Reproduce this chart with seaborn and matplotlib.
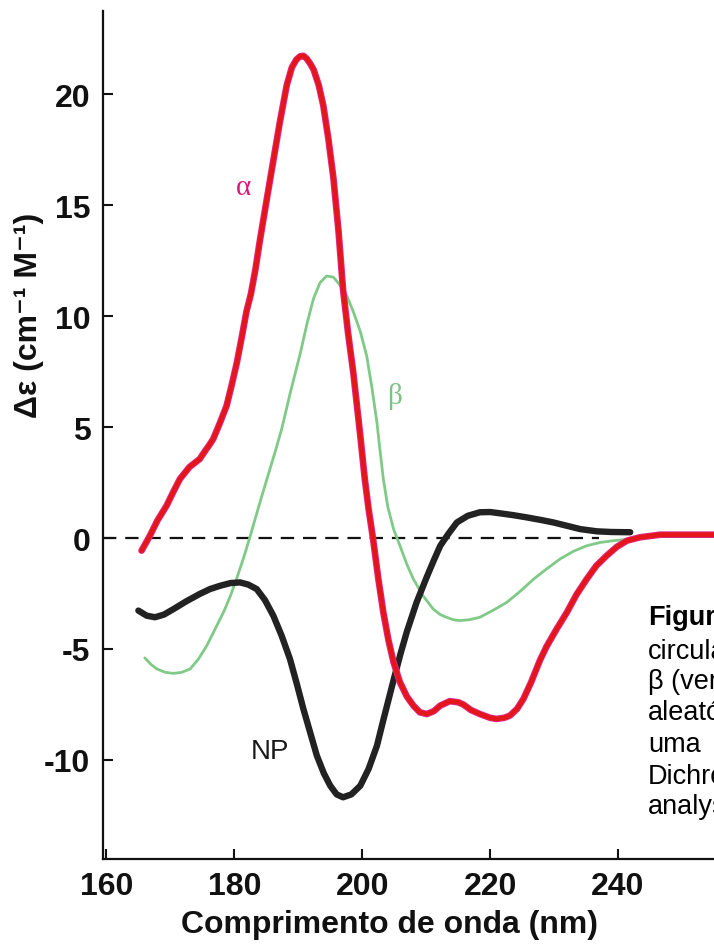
import matplotlib
matplotlib.use("Agg")
import matplotlib.pyplot as plt
import pandas as pd
import seaborn as sns

# CD spectra of the three reference secondary structures (Δε vs wavelength)
alpha_nm = [165.5, 166.8, 168.0, 169.4, 170.5, 171.5, 173.0, 174.6, 175.5, 176.0,
            176.7, 177.7, 178.8, 179.6, 180.4, 181.2, 181.9, 182.6, 183.3, 184.0,
            185.1, 186.1, 187.1, 188.2, 189.0, 189.7, 190.3, 190.8, 191.3, 191.8,
            192.4, 193.2, 193.9, 194.7, 195.5, 196.3, 197.0, 197.8, 198.6, 199.7,
            200.4, 201.0, 201.7, 202.5, 203.3, 204.1, 204.9, 205.9, 207.0, 208.0,
            209.0, 210.1, 211.2, 212.2, 213.7, 215.0, 215.8, 217.0, 218.4, 220.0,
            221.0, 222.2, 223.1, 224.2, 225.2, 226.4, 227.8, 228.8, 230.4, 232.0,
            233.5, 235.1, 236.6, 238.2, 239.8, 241.4, 243.4, 246.6, 250.0, 255.0]
alpha_de = [-0.57, 0.1, 0.8, 1.45, 2.1, 2.66, 3.2, 3.56, 3.95, 4.15,
            4.46, 5.15, 5.96, 6.9, 7.9, 9.1, 10.2, 11.0, 12.1, 13.4,
            15.3, 17.0, 18.7, 20.4, 21.2, 21.55, 21.7, 21.72, 21.6, 21.4,
            21.1, 20.4, 19.5, 18.0, 16.2, 13.8, 11.2, 9.2, 7.46, 4.6,
            2.66, 1.3, -0.05, -1.8, -3.35, -4.6, -5.6, -6.5, -7.15, -7.55,
            -7.85, -7.93, -7.8, -7.55, -7.35, -7.4, -7.5, -7.75, -7.93, -8.1,
            -8.15, -8.1, -8.0, -7.7, -7.25, -6.5, -5.5, -4.9, -4.1, -3.35,
            -2.55, -1.85, -1.25, -0.8, -0.4, -0.12, 0.03, 0.15, 0.15, 0.15]

beta_nm = [166.0, 167.0, 167.9, 169.2, 170.5, 171.8, 173.1, 174.4, 175.7, 177.0,
           178.3, 179.4, 180.4, 181.5, 182.5, 183.8, 185.1, 186.3, 187.4, 188.8,
           190.3, 191.4, 192.4, 193.4, 194.4, 195.5, 196.5, 197.6, 198.6, 199.7,
           200.7, 201.5, 202.3, 202.8, 203.3, 204.0, 204.9, 205.9, 207.0, 208.0,
           209.5, 211.1, 212.2, 213.0, 214.2, 215.3, 216.8, 218.4, 220.5, 222.6,
           224.7, 226.8, 228.8, 230.9, 233.0, 235.1, 237.2, 239.3, 241.9]
beta_de = [-5.4, -5.7, -5.9, -6.05, -6.1, -6.05, -5.9, -5.45, -4.85, -4.1,
           -3.35, -2.6, -1.8, -0.85, 0.1, 1.4, 2.66, 3.8, 4.9, 6.6,
           8.3, 9.7, 10.8, 11.5, 11.8, 11.75, 11.4, 10.9, 10.2, 9.3,
           8.2, 6.8, 5.2, 3.9, 2.66, 1.4, 0.4, -0.35, -1.2, -1.85,
           -2.6, -3.2, -3.45, -3.55, -3.68, -3.72, -3.68, -3.57, -3.25, -2.9,
           -2.4, -1.85, -1.4, -0.95, -0.6, -0.35, -0.2, -0.12, -0.05]

coil_nm = [165.0, 166.3, 167.6, 169.0, 170.5, 172.5, 174.6, 176.2, 177.8, 179.4,
           180.9, 182.2, 183.5, 184.8, 186.1, 187.4, 188.7, 189.8, 190.8, 191.9,
           192.9, 194.0, 195.0, 196.0, 197.0, 198.3, 199.7, 201.0, 202.3, 203.3,
           204.1, 204.9, 206.0, 207.0, 208.5, 210.1, 211.2, 212.2, 213.5, 214.8,
           216.5, 218.4, 220.0, 221.6, 223.6, 225.7, 227.8, 229.9, 232.0, 234.1,
           236.7, 239.0, 241.9]
coil_de = [-3.27, -3.5, -3.57, -3.45, -3.2, -2.85, -2.52, -2.3, -2.15, -2.03,
           -2.0, -2.1, -2.3, -2.8, -3.5, -4.4, -5.45, -6.6, -7.7, -8.8,
           -9.8, -10.6, -11.16, -11.55, -11.68, -11.55, -11.16, -10.4, -9.36, -8.2,
           -7.3, -6.4, -5.2, -4.2, -2.9, -1.75, -1.0, -0.35, 0.2, 0.7,
           1.0, 1.16, 1.17, 1.11, 1.03, 0.93, 0.82, 0.7, 0.55, 0.4,
           0.3, 0.27, 0.26]

x_ticks = [160, 180, 200, 220, 240]
y_ticks = [-10, -5, 0, 5, 10, 15, 20]
x_range = (159.47, 255.0)
y_range = (-14.46, 23.74)
baseline_end = 237.0

caption_lines = ["Figura", "circular", "β (verde)", "aleatória", "uma", "Dichroism", "analysis"]

sns.set_style("ticks")
plt.rcParams["font.family"] = ["Liberation Sans", "DejaVu Sans"]
plt.rcParams["axes.unicode_minus"] = False

fig = plt.figure(figsize=(7.14, 9.45), dpi=100)
ax = fig.add_axes([103 / 714, 85 / 945, 611 / 714, 848 / 945])

df_alpha = pd.DataFrame({"nm": alpha_nm, "de": alpha_de})
df_beta = pd.DataFrame({"nm": beta_nm, "de": beta_de})
df_coil = pd.DataFrame({"nm": coil_nm, "de": coil_de})

# zero baseline
ax.hlines(0, x_range[0], baseline_end, colors="#111111", linewidth=1.6,
          linestyles=(0, (6, 4)), zorder=1)

sns.lineplot(data=df_beta, x="nm", y="de", ax=ax, color="#80ca87", linewidth=2.0,
             sort=False, estimator=None, zorder=2)
sns.lineplot(data=df_coil, x="nm", y="de", ax=ax, color="#222222", linewidth=4.6,
             sort=False, estimator=None, zorder=3, solid_capstyle="round",
             solid_joinstyle="round")
sns.lineplot(data=df_alpha, x="nm", y="de", ax=ax, color="#dc2a82", linewidth=4.8,
             sort=False, estimator=None, zorder=4, solid_capstyle="round",
             solid_joinstyle="round")
sns.lineplot(data=df_alpha, x="nm", y="de", ax=ax, color="#e5161b", linewidth=3.4,
             sort=False, estimator=None, zorder=5, solid_capstyle="round",
             solid_joinstyle="round")

ax.set_xlim(*x_range)
ax.set_ylim(*y_range)
ax.set_xticks(x_ticks)
ax.set_yticks(y_ticks)
ax.set_xlabel("")
ax.set_ylabel("")
ax.tick_params(direction="in", length=7, width=1.5, labelsize=23, pad=9, colors="#111111")
for lbl in ax.get_xticklabels() + ax.get_yticklabels():
    lbl.set_fontweight("bold")

for side in ("top", "right"):
    ax.spines[side].set_visible(False)
for side in ("left", "bottom"):
    ax.spines[side].set_linewidth(1.6)
    ax.spines[side].set_color("#111111")

# curve labels
ax.text(181.4, 15.8, "α", color="#d8187c", fontsize=21, family="Liberation Serif",
        ha="center", va="center")
ax.text(205.1, 6.4, "β", color="#7cc283", fontsize=21, family="Liberation Serif",
        ha="center", va="center")
ax.text(185.6, -9.6, "NP", color="#1a1a1a", fontsize=20, ha="center", va="center")

# axis titles
fig.text(29 / 714, 1 - 315 / 945, "Δε (cm⁻¹ M⁻¹)", rotation=90, ha="center",
         va="center", fontsize=23, fontweight="bold", color="#111111")
fig.text(390 / 714, 1 - 925 / 945, "Comprimento de onda (nm)", ha="center",
         va="center", fontsize=23, fontweight="bold", color="#111111")

# caption beside the plot, running past the right edge of the figure
caption_y = [618, 652, 682, 713, 745, 777, 807]
for i, (line, ypx) in enumerate(zip(caption_lines, caption_y)):
    fig.text(648 / 714, 1 - ypx / 945, line, ha="left", va="center", fontsize=19.5,
             fontweight="bold" if i == 0 else "normal", color="#000000")

fig.savefig("out.png", dpi=100)
